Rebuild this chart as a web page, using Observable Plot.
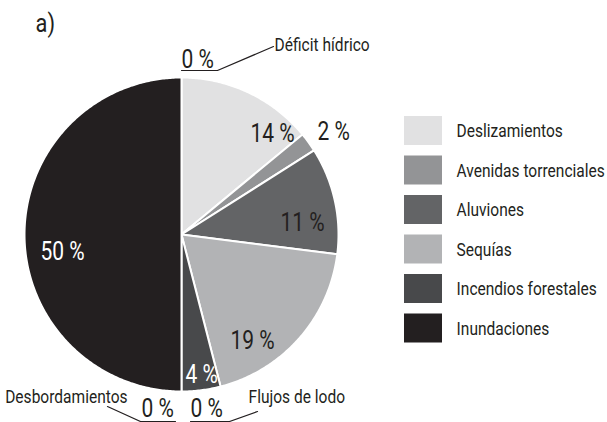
<!DOCTYPE html>
<html><head><meta charset="utf-8">
<script src="https://cdn.jsdelivr.net/npm/d3@7"></script>
<script src="https://cdn.jsdelivr.net/npm/@observablehq/plot@0.6"></script>
<style>
html,body{margin:0;padding:0;background:#fff;}
#chart svg{font-family:Roboto,"Liberation Sans",sans-serif;font-weight:400;}
</style></head>
<body><div id="chart"></div>
<script>
// Data (clockwise from top)
const categories = ["Déficit hídrico","Deslizamientos","Avenidas torrenciales","Aluviones","Sequías","Incendios forestales","Flujos de lodo","Desbordamientos","Inundaciones"];
const values = [0,14,2,11,19,4,0,0,50];
const valueLabels = ["0 %","14 %","2 %","11 %","19 %","4 %","0 %","0 %","50 %"];
const legendCategories = ["Deslizamientos","Avenidas torrenciales","Aluviones","Sequías","Incendios forestales","Inundaciones"];
const colors = ["#ffffff","#e1e1e2","#939496","#636466","#b2b3b5","#48494b","#ffffff","#ffffff","#231f20"];

// Layout
const W = 607, H = 422;
const cx = 181, cy = 234, R = 157;
const labelPos = [[197,59],[272,133],[333,131],[302,222],[252,340],[201,374],[206,408],[157,408],[62,251]];
const labelInk = ["#231f20","#231f20","#231f20","#231f20","#231f20","#ffffff","#231f20","#231f20","#ffffff"];
const SX = 0.84; // horizontal condensing of glyphs

const total = d3.sum(values);
let acc = 0;
const slicePts = [];
values.forEach((v, i) => {
  const a0 = acc / total * 2 * Math.PI;
  acc += v;
  const a1 = acc / total * 2 * Math.PI;
  if (v <= 0) return;
  slicePts.push({cat: categories[i], x: cx, y: cy});
  const n = Math.max(2, Math.ceil((a1 - a0) / 0.01));
  for (let k = 0; k <= n; k++) {
    const a = a0 + (a1 - a0) * k / n;
    slicePts.push({cat: categories[i], x: cx + R * Math.sin(a), y: cy - R * Math.cos(a)});
  }
  slicePts.push({cat: categories[i], x: cx, y: cy});
});

const labels = values.map((v, i) => ({text: valueLabels[i], x: labelPos[i][0], y: labelPos[i][1], ink: labelInk[i]}));

// leader lines for zero categories
const leaders = [
  {g:"def", x:181, y:70},{g:"def", x:217, y:70},{g:"def", x:273, y:46},
  {g:"des", x:107, y:406},{g:"des", x:140, y:421},{g:"des", x:175, y:421},
  {g:"flu", x:190, y:421},{g:"flu", x:229, y:421},{g:"flu", x:257, y:411}
];
const namesStart = [
  {text:"Déficit hídrico", x:274, y:45},
  {text:"Flujos de lodo", x:248, y:397}
];
const namesEnd = [
  {text:"Desbordamientos", x:127, y:397}
];

const legend = legendCategories.map((c, i) => ({cat: c, x1: 404, x2: 442, y1: 116 + i*39.5, y2: 145 + i*39.5, ty: 131 + i*39.5}));

const chart = Plot.plot({
  width: W, height: H, margin: 0,
  x: {type:"linear", domain:[0, W], range:[0, W], axis:null},
  y: {type:"linear", domain:[0, H], range:[0, H], axis:null},
  color: {type:"ordinal", domain: categories, range: colors},
  style: {background:"#fff"},
  marks: [
    Plot.line(slicePts, {x:"x", y:"y", z:"cat", fill:"cat", stroke:"white", strokeWidth:2, curve:"linear"}),
    Plot.text(labels, {x:"x", y:"y", text:"text", fill:"ink", fontSize:25}),
    Plot.line(leaders, {x:"x", y:"y", z:"g", stroke:"#231f20", strokeWidth:1.2}),
    Plot.text(namesStart, {x:"x", y:"y", text:"text", textAnchor:"start", fontSize:18.5, fill:"#231f20"}),
    Plot.text(namesEnd, {x:"x", y:"y", text:"text", textAnchor:"end", fontSize:18.5, fill:"#231f20"}),
    Plot.rect(legend, {x1:"x1", x2:"x2", y1:"y1", y2:"y2", fill:"cat"}),
    Plot.text(legend, {x:456, y:"ty", text:"cat", textAnchor:"start", fontSize:18.5, fill:"#231f20"}),
    Plot.text(["a)"], {x:35, y:23, text:d=>d, textAnchor:"start", fontSize:26, fill:"#231f20"})
  ]
});
document.getElementById("chart").appendChild(chart);

// condense glyphs horizontally around each text's anchor point
const svgR = chart.getBoundingClientRect();
chart.querySelectorAll("text").forEach(t => {
  const r = t.getBoundingClientRect();
  const anchor = getComputedStyle(t).textAnchor;
  const ax = (anchor === "end" ? r.right : anchor === "middle" ? (r.left + r.right) / 2 : r.left) - svgR.left;
  const g = document.createElementNS("http://www.w3.org/2000/svg", "g");
  g.setAttribute("transform", `translate(${ax},0) scale(${SX},1) translate(${-ax},0)`);
  t.parentNode.insertBefore(g, t);
  g.appendChild(t);
});
</script></body></html>
